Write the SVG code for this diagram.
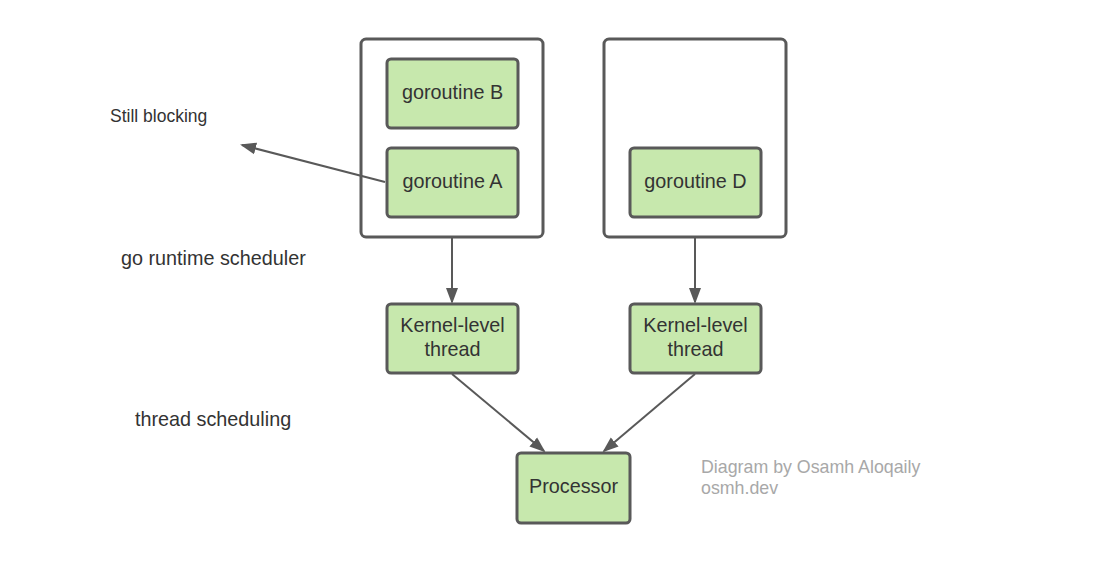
<svg xmlns="http://www.w3.org/2000/svg" width="1111" height="564" viewBox="0 0 1111 564">
<style>
.c{fill:#fff;stroke:#595959;stroke-width:3}
.n{fill:#c7e8ad;stroke:#595959;stroke-width:3}
.t{font-family:"Liberation Sans",Arial,sans-serif;font-size:19.8px;fill:#333;text-anchor:middle}
.l{font-family:"Liberation Sans",Arial,sans-serif;fill:#333}
.e{stroke:#595959;stroke-width:2;fill:none;marker-end:url(#a)}
</style>
<defs><marker id="a" markerWidth="16" markerHeight="16" refX="14" refY="6" orient="auto" markerUnits="userSpaceOnUse" viewBox="0 0 16 12"><path d="M0,0L16,6L0,12z" fill="#595959"/></marker></defs>
<rect width="1111" height="564" fill="#fff"/>
<g id="box1"><rect class="c" x="361" y="39" width="182" height="198" rx="5"/></g>
<g id="box2"><rect class="c" x="604" y="39" width="182" height="198" rx="5"/></g>
<g id="gB"><rect class="n" x="387" y="59" width="131" height="69" rx="4"/><text class="t" x="452.5" y="99">goroutine B</text></g>
<g id="gA"><rect class="n" x="387" y="148" width="131" height="69" rx="4"/><text class="t" x="452.5" y="188">goroutine A</text></g>
<g id="gD"><rect class="n" x="630" y="148" width="131" height="69" rx="4"/><text class="t" x="695.5" y="188">goroutine D</text></g>
<g id="k1"><rect class="n" x="387" y="304" width="131" height="69" rx="4"/><text class="t" x="452.5" y="332">Kernel-level</text><text class="t" x="452.5" y="356">thread</text></g>
<g id="k2"><rect class="n" x="630" y="304" width="131" height="69" rx="4"/><text class="t" x="695.5" y="332">Kernel-level</text><text class="t" x="695.5" y="356">thread</text></g>
<g id="proc"><rect class="n" x="517" y="453" width="113" height="70" rx="4"/><text class="t" x="573.5" y="493">Processor</text></g>
<g id="edges">
<path class="e" d="M452,237V302"/>
<path class="e" d="M695,237V302"/>
<path class="e" d="M452,374L544,451"/>
<path class="e" d="M695,374L604,451"/>
<path class="e" d="M385,182L242,145"/>
</g>
<text class="l" x="110" y="122" font-size="17.5">Still blocking</text>
<text class="l" x="121" y="265" font-size="19.8">go runtime scheduler</text>
<text class="l" x="135" y="426" font-size="19.8">thread scheduling</text>
<text class="l" x="701" y="473" font-size="17.8" style="fill:#a8a8a8">Diagram by Osamh Aloqaily</text>
<text class="l" x="701" y="494" font-size="17.8" style="fill:#a8a8a8">osmh.dev</text>
</svg>
